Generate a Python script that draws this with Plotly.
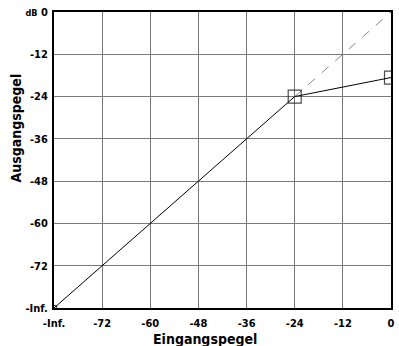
import plotly.graph_objects as go

tick_vals = [-84, -72, -60, -48, -36, -24, -12, 0]
x_tick_text = ["-Inf.", "-72", "-60", "-48", "-36", "-24", "-12", "0"]
y_tick_text = ["-Inf.", "-72", "-60", "-48", "-36", "-24", "-12", "<span style='font-size:9px'>dB</span> 0"]

curve_in = [-84, -24, 0]
curve_out = [-84, -24, -18.6]
ref_in = [-24, 0]
ref_out = [-24, 0]
marker_sizes = [5, 13, 13]

font_family = "DejaVu Sans Condensed, Liberation Sans Narrow, sans-serif"

fig = go.Figure()
fig.add_trace(go.Scatter(x=ref_in, y=ref_out, mode="lines",
                         line=dict(color="#888888", width=1, dash="dash"),
                         showlegend=False))
fig.add_trace(go.Scatter(x=curve_in, y=curve_out, mode="lines+markers",
                         line=dict(color="black", width=1),
                         marker=dict(symbol="square-open", size=marker_sizes,
                                     color="black", line=dict(width=1.2)),
                         showlegend=False))

axis_common = dict(range=[-84, 0], tickvals=tick_vals, showgrid=True,
                   gridcolor="#7a7a7a", gridwidth=1.3, zeroline=False,
                   showline=True, linecolor="black", linewidth=2, mirror=True,
                   ticks="", fixedrange=True,
                   tickfont=dict(family=font_family, size=11, color="black", weight="bold"))

fig.update_xaxes(**axis_common, ticktext=x_tick_text, ticklabelstandoff=4)
fig.update_yaxes(**axis_common, ticktext=y_tick_text, ticklabelstandoff=2)

fig.add_annotation(text="<b>Eingangspegel</b>", xref="paper", yref="paper",
                   x=(207 - 54) / 341, y=-(339 - 308) / 296, showarrow=False,
                   xanchor="center", yanchor="middle",
                   font=dict(family=font_family, size=14, color="black"))
fig.add_annotation(text="<b>Ausgangspegel</b>", xref="paper", yref="paper",
                   x=-(54 - 16) / 341, y=(308 - 128) / 296, showarrow=False,
                   xanchor="center", yanchor="middle", textangle=-90,
                   font=dict(family=font_family, size=14, color="black"))

fig.update_layout(width=399, height=346,
                  margin=dict(l=54, r=4, t=12, b=38),
                  paper_bgcolor="white", plot_bgcolor="white")

fig.write_html("out.html")
